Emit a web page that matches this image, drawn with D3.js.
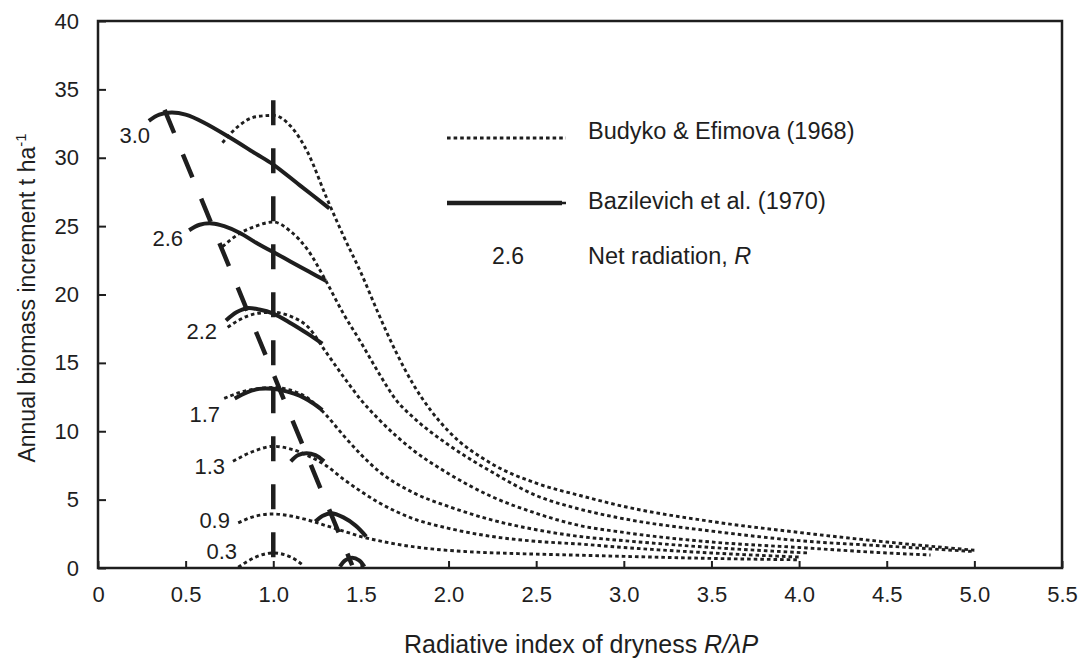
<!DOCTYPE html>
<html>
<head>
<meta charset="utf-8">
<script src="https://cdn.jsdelivr.net/npm/d3@7"></script>
<style>
  html, body { margin: 0; padding: 0; background: #fff; }
  svg { display: block; font-family: "Liberation Sans", Arial, sans-serif; }
</style>
</head>
<body>
<svg id="chart" width="1088" height="662"></svg>
<script>
// ---------------- DATA ----------------
const radiationLevels = ["3.0", "2.6", "2.2", "1.7", "1.3", "0.9", "0.3"];

// Budyko & Efimova (1968) – dotted curves [x, y]
const budyko30 = [[0.71,31.1],[0.8,32.3],[0.9,33.0],[1.0,33.1],[1.1,32.3],[1.2,30.3],[1.3,27.2],[1.4,24.3],[1.5,21.6],[1.6,18.6],[1.7,15.8],[1.8,13.4],[1.9,11.5],[2.0,10.0],[2.25,7.6],[2.5,6.2],[2.75,5.3],[3.0,4.5],[3.5,3.4],[4.0,2.6],[4.5,1.9],[5.0,1.3]];
const budyko26 = [[0.71,23.5],[0.8,24.4],[0.9,25.0],[1.0,25.3],[1.1,24.6],[1.2,23.2],[1.3,21.0],[1.4,18.6],[1.5,16.5],[1.6,14.3],[1.7,12.3],[1.8,11.0],[2.0,9.0],[2.25,7.0],[2.5,5.3],[2.75,4.3],[3.0,3.6],[3.5,2.7],[4.0,2.0],[4.5,1.6],[5.0,1.2]];
const budyko22 = [[0.74,17.6],[0.8,18.1],[0.9,18.6],[1.0,18.7],[1.1,18.4],[1.2,17.6],[1.3,15.8],[1.4,14.0],[1.5,12.3],[1.6,10.9],[1.8,8.6],[2.0,6.9],[2.25,5.2],[2.5,4.0],[2.75,3.1],[3.0,2.6],[3.5,1.9],[4.0,1.5],[4.5,1.1],[4.75,0.95]];
const budyko17 = [[0.72,12.4],[0.8,12.8],[0.9,13.1],[1.0,13.2],[1.1,13.0],[1.2,12.4],[1.3,11.2],[1.4,9.7],[1.5,8.3],[1.6,7.1],[1.8,5.5],[2.0,4.5],[2.25,3.5],[2.5,2.8],[2.75,2.3],[3.0,2.0],[3.5,1.5],[4.05,1.1]];
const budyko13 = [[0.77,7.8],[0.9,8.6],[1.0,8.9],[1.1,8.7],[1.2,8.2],[1.3,7.5],[1.4,6.5],[1.5,5.6],[1.6,4.8],[1.8,3.6],[2.0,2.9],[2.25,2.3],[2.5,1.95],[2.75,1.75],[3.0,1.5],[3.5,1.1],[4.0,0.8]];
const budyko09 = [[0.8,3.3],[0.9,3.8],[1.0,3.95],[1.1,3.8],[1.2,3.5],[1.3,3.1],[1.4,2.7],[1.5,2.3],[1.6,2.0],[1.7,1.75],[1.9,1.4],[2.1,1.2],[2.4,1.05],[2.7,0.95],[3.0,0.85],[3.5,0.7],[4.0,0.6]];
const budyko03 = [[0.8,0.05],[0.9,0.8],[1.0,1.1],[1.1,0.8],[1.17,0.2]];

// Bazilevich et al. (1970) – solid curves [x, y]
const bazil30 = [[0.29,32.7],[0.35,33.15],[0.42,33.3],[0.5,33.15],[0.6,32.6],[0.75,31.5],[0.9,30.3],[1.0,29.5],[1.15,28.0],[1.32,26.3]];
const bazil26 = [[0.52,24.7],[0.58,25.1],[0.65,25.2],[0.72,25.0],[0.81,24.5],[0.9,23.8],[1.0,23.1],[1.1,22.4],[1.2,21.7],[1.3,21.0]];
const bazil22 = [[0.73,18.1],[0.79,18.7],[0.85,19.0],[0.92,18.9],[1.0,18.6],[1.1,17.9],[1.2,17.1],[1.28,16.4]];
const bazil17 = [[0.78,12.4],[0.85,12.85],[0.92,13.1],[1.0,13.1],[1.08,12.9],[1.15,12.6],[1.22,12.1],[1.28,11.55]];
const bazil13 = [[1.1,7.8],[1.14,8.25],[1.19,8.4],[1.24,8.25],[1.29,7.8]];
const bazil09 = [[1.24,3.4],[1.28,3.8],[1.33,4.0],[1.4,3.7],[1.47,3.1],[1.53,2.3]];
const bazil03 = [[1.38,0.1],[1.41,0.55],[1.45,0.75],[1.49,0.55],[1.52,0.1]];

// Thick dashed guide lines (optimum lines)
const guideVertical = [[1.0,34.2],[1.0,0]];
const guideDiagonal = [[0.38,33.5],[1.45,0.2]];

// Label anchors (data units) for each net radiation value
const labelAnchors = [[0.297,31.66],[0.485,24.13],[0.679,17.26],[0.696,11.19],[0.725,7.39],[0.753,3.51],[0.793,1.24]];

const xTicks = [0,0.5,1.0,1.5,2.0,2.5,3.0,3.5,4.0,4.5,5.0,5.5];
const xTickLabels = ["0","0.5","1.0","1.5","2.0","2.5","3.0","3.5","4.0","4.5","5.0","5.5"];
const yTicks = [0,5,10,15,20,25,30,35,40];

const budykoSeries = [budyko30,budyko26,budyko22,budyko17,budyko13,budyko09,budyko03];
const bazilSeries = [bazil30,bazil26,bazil22,bazil17,bazil13,bazil09,bazil03];

// ---------------- CHART ----------------
const ink = "#1e1e1e";
const font = '"Liberation Sans", Arial, sans-serif';
const svg = d3.select("#chart");
const x = d3.scaleLinear().domain([0,5.5]).range([98,1062]);
const y = d3.scaleLinear().domain([0,40]).range([568,21]);

const line = d3.line().x(d => x(d[0])).y(d => y(d[1])).curve(d3.curveMonotoneX);
const smooth = d3.line().x(d => x(d[0])).y(d => y(d[1])).curve(d3.curveCatmullRom.alpha(0.5));
const straight = d3.line().x(d => x(d[0])).y(d => y(d[1]));

// Budyko dotted curves
svg.append("g").selectAll("path").data(budykoSeries).join("path")
  .attr("d", line).attr("fill","none").attr("stroke",ink)
  .attr("stroke-width",2.9).attr("stroke-dasharray","3.6,3");

// Bazilevich solid curves
svg.append("g").selectAll("path").data(bazilSeries).join("path")
  .attr("d", smooth).attr("fill","none").attr("stroke",ink)
  .attr("stroke-width",4).attr("stroke-linecap","butt");

// Dashed guide lines
svg.append("g").selectAll("path").data([guideVertical, guideDiagonal]).join("path")
  .attr("d", straight).attr("fill","none").attr("stroke",ink)
  .attr("stroke-width",4.5).attr("stroke-dasharray","25,23");

// Axes
const yAxis = d3.axisLeft(y).tickValues(yTicks).tickSize(-8).tickPadding(19).tickFormat(d3.format("d"));
const xAxis = d3.axisBottom(x).tickValues(xTicks).tickSize(-7).tickPadding(18)
  .tickFormat((d,i) => xTickLabels[i]);

const gy = svg.append("g").attr("transform","translate(98,0)").call(yAxis);
const gx = svg.append("g").attr("transform","translate(0,568)").call(xAxis);
[gx, gy].forEach(g => {
  g.select(".domain").remove();
  g.selectAll(".tick line").attr("stroke",ink).attr("stroke-width",2);
  g.selectAll(".tick text").attr("fill",ink).style("font-size","22px").style("font-family",font);
});

// Frame
svg.append("rect").attr("x",98).attr("y",21).attr("width",1062-98).attr("height",568-21)
  .attr("fill","none").attr("stroke",ink).attr("stroke-width",2.5);

// Curve labels
svg.append("g").selectAll("text").data(radiationLevels).join("text")
  .attr("x",(d,i)=>x(labelAnchors[i][0])).attr("y",(d,i)=>y(labelAnchors[i][1]))
  .attr("text-anchor","end").attr("dominant-baseline","central")
  .attr("fill",ink).style("font-size","22px").text(d=>d);

// Legend
const lg = svg.append("g");
lg.append("line").attr("x1",447).attr("x2",566).attr("y1",138).attr("y2",138)
  .attr("stroke",ink).attr("stroke-width",2.8).attr("stroke-dasharray","3.6,3");
lg.append("line").attr("x1",447).attr("x2",562).attr("y1",203).attr("y2",203)
  .attr("stroke",ink).attr("stroke-width",4.5);
lg.append("line").attr("x1",560).attr("x2",566).attr("y1",203).attr("y2",203)
  .attr("stroke",ink).attr("stroke-width",2.5);
lg.append("text").attr("x",508).attr("y",256).attr("text-anchor","middle")
  .attr("dominant-baseline","central").attr("fill",ink).style("font-size","23px").text("2.6");
const legendTexts = [["Budyko & Efimova (1968)",131],["Bazilevich et al. (1970)",201]];
legendTexts.forEach(t => {
  lg.append("text").attr("x",588).attr("y",t[1]).attr("dominant-baseline","central")
    .attr("fill",ink).style("font-size","23.5px").text(t[0]);
});
const nr = lg.append("text").attr("x",588).attr("y",256).attr("dominant-baseline","central")
  .attr("fill",ink).style("font-size","23.5px");
nr.append("tspan").text("Net radiation, ");
nr.append("tspan").style("font-style","italic").text("R");

// Axis titles
const yt = svg.append("text").attr("transform","translate(35,298) rotate(-90)")
  .attr("text-anchor","middle").attr("fill",ink).style("font-size","23px");
yt.append("tspan").text("Annual biomass increment t ha");
yt.append("tspan").attr("dy",-9).style("font-size","15px").text("-1");

const xt = svg.append("text").attr("x",581).attr("y",653)
  .attr("text-anchor","middle").attr("fill",ink).style("font-size","25px");
xt.append("tspan").text("Radiative index of dryness ");
xt.append("tspan").style("font-style","italic").text("R/λP");
</script>
</body>
</html>
